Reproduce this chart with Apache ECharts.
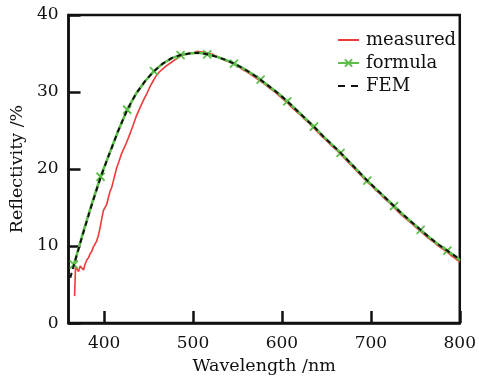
<!DOCTYPE html>
<html>
<head>
<meta charset="utf-8">
<script src="https://cdn.jsdelivr.net/npm/echarts@6/dist/echarts.min.js"></script>
<style>html,body{margin:0;padding:0;background:#fff;}#c{width:479px;height:380px;}</style>
</head>
<body>
<div id="c"></div>
<script>
// Measured reflectivity (red)
var measuredWl = [366.8, 367.9, 369.4, 371.3, 373, 375, 376.9, 378.5, 380.5, 382.5, 384.3, 386, 388, 389.9, 391.5, 393.6, 395.5, 397.3, 399.2, 401, 402.9, 404.8, 406.7, 408.5, 410.3, 412, 414, 416.8, 419.6, 424, 428.5, 432, 436, 440.5, 445, 448.5, 452, 455, 458, 462, 466, 470, 475, 480, 484, 489, 494, 497, 501, 505, 509, 513, 518, 522, 527, 531, 536, 541, 546, 551, 556, 561, 566, 571, 576, 581, 586, 591, 596, 601, 606, 611, 616, 621, 626, 631, 636, 641, 646, 651, 656, 661, 666, 671, 676, 681, 686, 691, 696, 701, 706, 711, 716, 721, 726, 731, 736, 741, 746, 751, 756, 761, 766, 771, 776, 781, 786, 791, 796, 800];
var measuredVal = [3.5, 7.3, 7.5, 6.7, 7.4, 7.3, 6.9, 7.6, 8.2, 8.5, 9.0, 9.3, 9.9, 10.3, 10.6, 11.4, 12.4, 13.5, 14.6, 15.0, 15.4, 16.3, 17.1, 17.6, 18.4, 19.2, 20.1, 21.0, 22.0, 23.1, 24.4, 25.5, 26.8, 28.0, 29.1, 29.9, 30.8, 31.4, 32.0, 32.6, 33.0, 33.4, 33.8, 34.2, 34.5, 34.8, 35.0, 35.1, 35.1, 35.3, 35.2, 35.2, 35.0, 34.9, 34.6, 34.4, 34.1, 33.9, 33.6, 33.3, 32.9, 32.6, 32.2, 31.8, 31.4, 31.0, 30.5, 30.1, 29.6, 29.1, 28.6, 28.0, 27.5, 27.0, 26.4, 25.9, 25.3, 24.7, 24.1, 23.6, 23.0, 22.5, 21.9, 21.3, 20.7, 20.1, 19.5, 18.9, 18.3, 17.8, 17.2, 16.7, 16.1, 15.6, 15.0, 14.4, 13.9, 13.4, 12.9, 12.4, 11.9, 11.4, 10.9, 10.5, 10.0, 9.6, 9.2, 8.7, 8.3, 7.9];

// Formula (green, x markers every third point)
var formulaWl = [366, 376, 386, 396, 406, 416, 426, 436, 446, 456, 466, 476, 486, 496, 506, 516, 526, 536, 546, 556, 566, 576, 586, 596, 606, 616, 626, 636, 646, 656, 666, 676, 686, 696, 706, 716, 726, 736, 746, 756, 766, 776, 786, 796, 800];
var formulaVal = [7.6, 11.6, 15.4, 19.0, 22.0, 25.0, 27.7, 29.8, 31.4, 32.7, 33.7, 34.4, 34.8, 35.0, 35.1, 34.9, 34.6, 34.2, 33.7, 33.1, 32.4, 31.6, 30.7, 29.8, 28.8, 27.7, 26.6, 25.5, 24.3, 23.2, 22.1, 20.9, 19.7, 18.5, 17.4, 16.3, 15.2, 14.1, 13.1, 12.1, 11.1, 10.2, 9.4, 8.6, 8.1];

// FEM (black dashed)
var femWl = [362, 366, 376, 386, 396, 406, 416, 426, 436, 446, 456, 466, 476, 486, 496, 506, 516, 526, 536, 546, 556, 566, 576, 586, 596, 606, 616, 626, 636, 646, 656, 666, 676, 686, 696, 706, 716, 726, 736, 746, 756, 766, 776, 786, 796, 800];
var femVal = [5.9, 7.5, 11.5, 15.3, 18.9, 22.0, 25.0, 27.7, 29.8, 31.4, 32.7, 33.7, 34.4, 34.8, 35.0, 35.1, 34.9, 34.6, 34.2, 33.7, 33.1, 32.4, 31.6, 30.7, 29.8, 28.8, 27.7, 26.6, 25.5, 24.3, 23.2, 22.1, 20.9, 19.7, 18.5, 17.4, 16.3, 15.2, 14.1, 13.1, 12.1, 11.1, 10.2, 9.4, 8.6, 8.1];

var xTicks = [400, 500, 600, 700, 800];
var seriesNames = ['measured', 'formula', 'FEM'];

function pairs(xs, ys) { return xs.map(function (x, i) { return [x, ys[i]]; }); }

var FONT = 'DejaVu Serif';
var chart = echarts.init(document.getElementById('c'), null, { renderer: 'canvas' });
chart.setOption({
  animation: false,
  backgroundColor: '#fff',
  grid: { left: 67, right: 18, top: 15, bottom: 53, show: true, borderColor: '#111', borderWidth: 2.5, backgroundColor: 'transparent' },
  legend: {
    orient: 'vertical', left: 332, top: 26, itemWidth: 21, itemHeight: 9, itemGap: 5,
    data: [
      { name: seriesNames[0], itemStyle: { color: 'transparent', borderWidth: 0, borderColor: 'transparent' } },
      { name: seriesNames[1] },
      { name: seriesNames[2], itemStyle: { color: 'transparent', borderWidth: 0, borderColor: 'transparent' }, lineStyle: { type: [7, 6], width: 2 } }
    ],
    textStyle: { fontFamily: FONT, fontSize: 18, lineHeight: 18, color: '#111', padding: [0, 0, 0, 2] }
  },
  xAxis: {
    type: 'value', min: 360, max: 800,
    name: 'Wavelength /nm', nameLocation: 'middle', nameGap: 28,
    nameTextStyle: { fontFamily: FONT, fontSize: 17.5, color: '#111' },
    axisLine: { show: true, lineStyle: { color: '#111', width: 2.5 } },
    axisTick: { show: true, inside: true, length: 12, lineStyle: { color: '#111', width: 2.5 }, customValues: xTicks },
    axisLabel: { fontFamily: FONT, fontSize: 17, color: '#111', margin: 12, customValues: xTicks },
    splitLine: { show: false }
  },
  yAxis: {
    type: 'value', min: 0, max: 40, interval: 10,
    name: 'Reflectivity /%', nameLocation: 'middle', nameGap: 40,
    nameTextStyle: { fontFamily: FONT, fontSize: 17.5, color: '#111' },
    axisLine: { show: true, lineStyle: { color: '#111', width: 2.5 } },
    axisTick: { show: true, inside: true, length: 12, lineStyle: { color: '#111', width: 2.5 } },
    axisLabel: { fontFamily: FONT, fontSize: 17, color: '#111', margin: 10 },
    splitLine: { show: false }
  },
  series: [
    {
      name: seriesNames[0], type: 'line', data: pairs(measuredWl, measuredVal),
      showSymbol: false, symbol: 'none', color: '#f03a3a',
      lineStyle: { color: '#f03a3a', width: 1.6 }, z: 2
    },
    {
      name: seriesNames[1], type: 'line', data: pairs(formulaWl, formulaVal),
      symbol: 'path://M0,0L10,10M10,0L0,10',
      symbolSize: function (v, p) { return p.dataIndex % 3 === 0 ? 8 : 0; },
      showSymbol: true, color: '#5cbf4a',
      itemStyle: { color: 'transparent', borderColor: '#5cbf4a', borderWidth: 1.8 },
      lineStyle: { color: '#5cbf4a', width: 2.6 }, z: 3
    },
    {
      name: seriesNames[2], type: 'line', data: pairs(femWl, femVal),
      showSymbol: false, symbol: 'none', color: '#111',
      lineStyle: { color: '#111', width: 2, type: [5, 4] }, z: 4
    }
  ]
});
</script>
</body>
</html>
